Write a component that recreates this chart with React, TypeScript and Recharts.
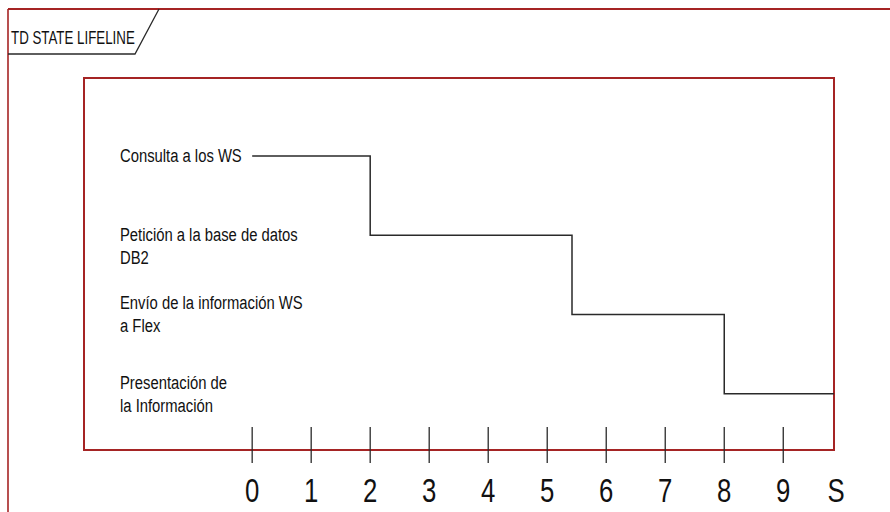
import { LineChart, Line, XAxis, YAxis, ReferenceArea } from "recharts";

// states of the lifeline, top to bottom (index = y value)
const stateLabels: string[][] = [
  ["Consulta a los WS"],
  ["Petición a la base de datos", "DB2"],
  ["Envío de la información WS", "a Flex"],
  ["Presentación de", "la Información"],
];

// time axis
const tickValues = [0, 1, 2, 3, 4, 5, 6, 7, 8, 9, 9.86];
const tickLabels = ["0", "1", "2", "3", "4", "5", "6", "7", "8", "9", "S"];

// state changes: time at which the lifeline enters each state
const changeTimes = [0, 2, 5.42, 8, 9.86];
const changeStates = [0, 1, 2, 3, 3];

const data = changeTimes.map((t, i) => ({ t, state: changeStates[i] }));

const xDomain: [number, number] = [-2.85, 9.86];
const yDomain: [number, number] = [-0.985, 3.71];

const FRAME = "#a52424";
const INK = "#2a2a2a";
const FONT = '"Liberation Sans", Arial, sans-serif';

// first-line baseline shift relative to the state level, per label
const labelShift = [6, 6, -6, -5];

// condensed text: Arial squeezed horizontally, like the original narrow face
function NarrowText({ x, y, size, sx, anchor = "start", children }: any) {
  return (
    <text
      transform={`translate(${x},${y}) scale(${sx},1)`}
      fontFamily={FONT}
      fontSize={size}
      fill="#111"
      textAnchor={anchor}
    >
      {children}
    </text>
  );
}

function TimeTick(props: any) {
  const { x, y, payload, index } = props;
  const isEnd = index === tickLabels.length - 1;
  return (
    <g>
      {!isEnd && <line x1={x} x2={x} y1={y - 23} y2={y + 13} stroke={INK} strokeWidth={1.3} />}
      <NarrowText x={isEnd ? x + 2 : x} y={y + 52} size={33} sx={0.78} anchor="middle">
        {tickLabels[index] ?? String(payload.value)}
      </NarrowText>
    </g>
  );
}

function StateTick(props: any) {
  const { x, y, payload } = props;
  const lines = stateLabels[payload.value] ?? [];
  const shift = labelShift[payload.value] ?? 0;
  return (
    <g>
      {lines.map((ln, i) => (
        <NarrowText key={i} x={x + 36} y={y + shift + i * 23} size={19} sx={0.78}>
          {ln}
        </NarrowText>
      ))}
    </g>
  );
}

export default function App() {
  return (
    <div
      style={{
        position: "fixed",
        left: 0,
        top: 0,
        width: 890,
        height: 512,
        overflow: "hidden",
        background: "#fff",
      }}
    >
      {/* outer frame + title tab */}
      <svg width={890} height={512} style={{ position: "absolute", left: 0, top: 0 }}>
        <line x1={8} x2={890} y1={9} y2={9} stroke={FRAME} strokeWidth={2} />
        <line x1={8} x2={8} y1={9} y2={512} stroke={FRAME} strokeWidth={1.6} />
        <polyline points="8,54 135,54 159,9" fill="none" stroke={INK} strokeWidth={1.3} />
        <NarrowText x={11} y={44} size={18} sx={0.74}>
          TD STATE LIFELINE
        </NarrowText>
      </svg>
      <div style={{ position: "absolute", left: 0, top: 0 }}>
        <LineChart
          width={890}
          height={512}
          data={data}
          margin={{ top: 78, right: 56, bottom: 0, left: 24 }}
        >
          <XAxis
            dataKey="t"
            type="number"
            domain={xDomain}
            ticks={tickValues}
            interval={0}
            height={62}
            tickSize={0}
            tickMargin={0}
            tickLine={false}
            axisLine={{ stroke: FRAME, strokeWidth: 2 }}
            tick={<TimeTick />}
          />
          <YAxis
            dataKey="state"
            type="number"
            domain={yDomain}
            reversed
            ticks={[0, 1, 2, 3]}
            interval={0}
            width={60}
            tickSize={0}
            tickMargin={0}
            tickLine={false}
            axisLine={{ stroke: FRAME, strokeWidth: 2 }}
            tick={<StateTick />}
          />
          <ReferenceArea
            x1={xDomain[0]}
            x2={xDomain[1]}
            y1={yDomain[0]}
            y2={yDomain[1]}
            fill="none"
            fillOpacity={0}
            stroke={FRAME}
            strokeWidth={2}
          />
          <Line
            type="stepAfter"
            dataKey="state"
            stroke={INK}
            strokeWidth={1.5}
            dot={false}
            isAnimationActive={false}
          />
        </LineChart>
      </div>
    </div>
  );
}
